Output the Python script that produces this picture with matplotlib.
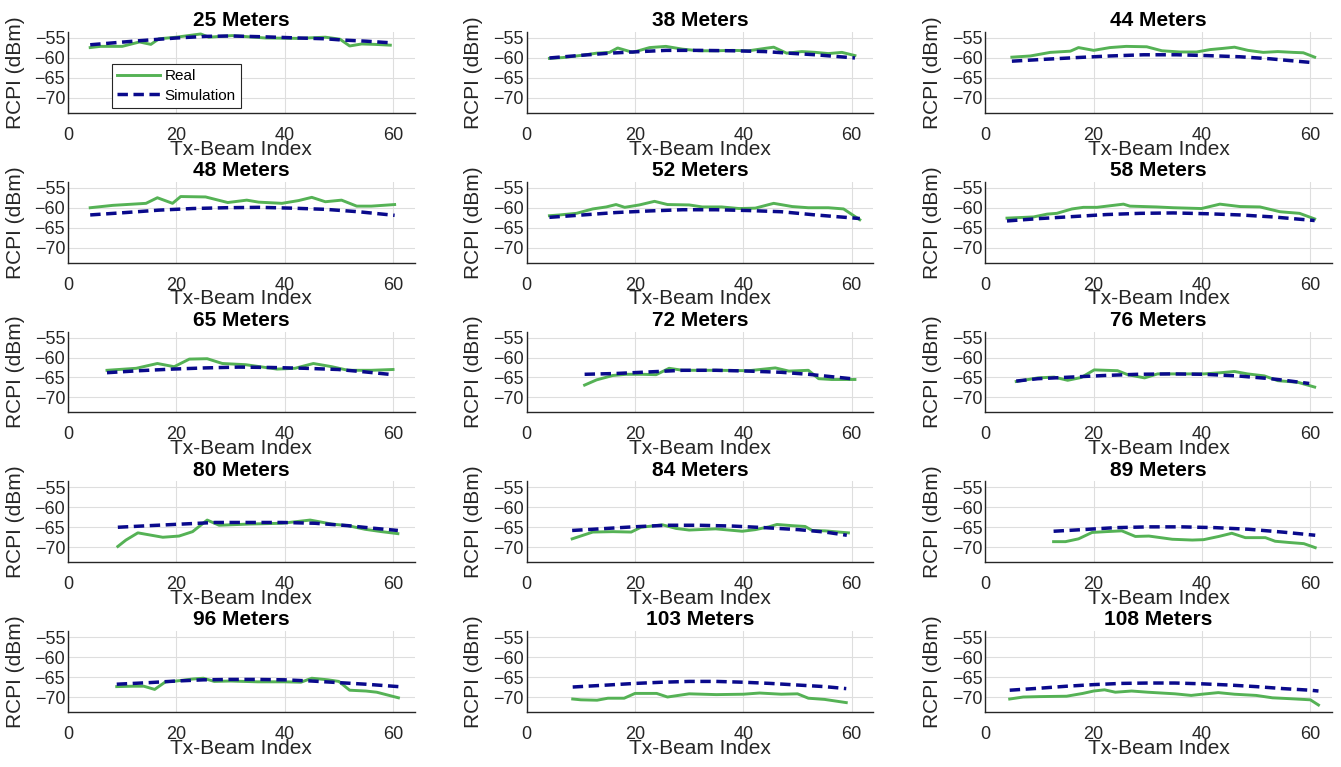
import matplotlib
matplotlib.use("Agg")
import matplotlib.pyplot as plt

# ---------- Data ----------

distances = [25, 38, 44, 48, 52, 58, 65, 72, 76, 80, 84, 89, 96, 103, 108]

# 25 m
real_x_25 = [4.1, 6, 10, 13.2, 15.3, 16.8, 20, 24.5, 26, 30.3, 36.4, 42.5, 47.5, 50.2, 52, 54.2, 56.6, 59.5]
real_y_25 = [-57.4, -57.1, -57.1, -56.0, -56.6, -55.2, -54.8, -54.0, -54.8, -54.4, -55.0, -55.1, -54.8, -55.3, -57.0, -56.5, -56.6, -56.8]
sim_x_25 = [4.1, 13, 20, 25.4, 30, 36, 42.5, 47.5, 50.5, 55, 59.5]
sim_y_25 = [-56.7, -55.7, -55.0, -54.6, -54.5, -54.7, -55.0, -55.2, -55.5, -55.8, -56.2]

# 38 m
real_x_38 = [4.2, 6.7, 10.4, 12.9, 15.3, 16.8, 19.6, 22.7, 25.7, 28.8, 31.8, 34.9, 38, 41, 44, 45.6, 48, 50.8, 53.3, 55.7, 58.2, 60.6]
real_y_38 = [-60.1, -59.9, -59.3, -58.8, -58.6, -57.5, -58.6, -57.4, -57.1, -57.8, -58.2, -58.2, -58.1, -58.2, -57.6, -57.3, -58.8, -58.4, -58.6, -58.9, -58.6, -59.4]
sim_x_38 = [4.2, 10.4, 15.3, 19.6, 25.7, 31.8, 38, 44, 48.4, 53.3, 60.6]
sim_y_38 = [-60.0, -59.3, -58.8, -58.5, -58.1, -58.1, -58.2, -58.4, -58.8, -59.2, -60.0]

# 44 m
real_x_44 = [4.9, 8.3, 12, 15.7, 17.2, 20, 23, 26, 29.8, 32.6, 35.9, 39, 41.5, 43.9, 46, 48.5, 51.3, 54, 56.8, 58.7, 60.8]
real_y_44 = [-59.8, -59.5, -58.6, -58.3, -57.4, -58.1, -57.4, -57.1, -57.2, -58.2, -58.5, -58.5, -57.9, -57.6, -57.3, -58.1, -58.6, -58.4, -58.6, -58.7, -59.8]
sim_x_44 = [4.9, 11.4, 16.9, 23, 29.2, 35.3, 40.8, 47, 52.5, 57.4, 60.8]
sim_y_44 = [-60.8, -60.3, -59.9, -59.5, -59.2, -59.2, -59.4, -59.7, -60.2, -60.8, -61.2]

# 48 m
real_x_48 = [4.1, 8.3, 12, 14.4, 16.5, 19.3, 20.8, 25.4, 29.5, 33, 35.2, 39.5, 42.6, 45, 47.5, 50.5, 53.3, 56, 60.3]
real_y_48 = [-60.0, -59.4, -59.1, -58.9, -57.5, -58.9, -57.2, -57.3, -58.7, -58.1, -58.6, -58.9, -58.2, -57.4, -58.5, -58.1, -59.6, -59.6, -59.2]
sim_x_48 = [4.1, 10.7, 16.8, 23, 29, 35.2, 41.3, 47.5, 53.6, 60.3]
sim_y_48 = [-61.8, -61.2, -60.6, -60.2, -60.0, -59.9, -60.1, -60.4, -61.0, -61.9]

# 52 m
real_x_52 = [4.2, 6.1, 9.2, 12.2, 14.7, 16.5, 18.1, 20.8, 23.6, 26, 30, 32.4, 36, 39.2, 42.2, 45.6, 49, 52, 55.7, 58.5, 61.5]
real_y_52 = [-62.0, -61.8, -61.4, -60.3, -59.8, -59.2, -59.9, -59.3, -58.4, -59.2, -59.3, -59.8, -59.8, -60.2, -60.1, -58.9, -59.7, -60.0, -60.0, -60.3, -63.0]
sim_x_52 = [4.2, 10.4, 16.5, 22.7, 28.8, 34.9, 41, 47, 53.3, 61.5]
sim_y_52 = [-62.4, -61.8, -61.2, -60.8, -60.5, -60.5, -60.7, -61.0, -61.8, -62.7]

# 58 m
real_x_58 = [4, 8.9, 11.4, 13.2, 16, 18.1, 20.6, 25.5, 26.7, 31.6, 34.7, 39.9, 43.3, 47, 50.7, 54.4, 58, 60.8]
real_y_58 = [-62.6, -62.3, -61.6, -61.4, -60.3, -59.9, -59.9, -59.1, -59.6, -59.8, -60.0, -60.2, -59.1, -59.7, -59.8, -61.0, -61.4, -62.8]
sim_x_58 = [4, 10.1, 16.3, 22.4, 28.6, 34.7, 40.9, 47, 53.1, 60.8]
sim_y_58 = [-63.3, -62.7, -62.2, -61.7, -61.4, -61.3, -61.5, -61.8, -62.3, -63.2]

# 65 m
real_x_65 = [7.2, 12.6, 16.5, 19.6, 22.4, 25.7, 28.5, 32.8, 38.6, 41.9, 45.3, 48.7, 51.7, 56, 60]
real_y_65 = [-63.2, -62.7, -61.5, -62.3, -60.4, -60.3, -61.5, -61.8, -62.9, -62.7, -61.5, -62.3, -63.2, -63.2, -63.0]
sim_x_65 = [7.2, 13.2, 19.3, 25.4, 31.5, 37.6, 43.8, 49.9, 54.8, 60]
sim_y_65 = [-63.8, -63.3, -62.9, -62.6, -62.4, -62.5, -62.7, -63.0, -63.6, -64.3]

# 72 m
real_x_72 = [10.7, 12.9, 15.9, 18.4, 21.4, 23.9, 26.3, 28.8, 34.9, 41, 45.9, 48.4, 52, 53.9, 56.3, 60.6]
real_y_72 = [-66.9, -65.6, -64.5, -64.2, -64.2, -64.3, -62.7, -63.2, -63.2, -63.3, -62.6, -63.4, -63.2, -65.3, -65.5, -65.5]
sim_x_72 = [10.7, 16.5, 22.7, 28.8, 34.9, 41, 47, 52, 56.3, 60.6]
sim_y_72 = [-64.2, -64.0, -63.6, -63.2, -63.2, -63.4, -63.7, -64.2, -64.8, -65.4]

# 76 m
real_x_76 = [5.7, 9.7, 12.7, 15.2, 17.7, 20.1, 24.4, 26.3, 29.4, 31.8, 34.9, 40.4, 43.5, 46, 48.4, 51.5, 54, 57.7, 60.8]
real_y_76 = [-66.0, -65.1, -64.9, -65.7, -65.0, -63.1, -63.3, -64.3, -65.1, -64.1, -64.1, -64.1, -63.8, -63.5, -64.1, -64.6, -65.8, -66.2, -67.4]
sim_x_76 = [5.7, 9.7, 15.8, 22, 28.1, 34.2, 40.4, 46.5, 52.7, 55.8, 59.8]
sim_y_76 = [-65.9, -65.3, -64.9, -64.5, -64.2, -64.1, -64.2, -64.6, -65.3, -65.8, -66.5]

# 80 m
real_x_80 = [9.2, 10.7, 12.9, 17.5, 20.5, 23, 25.7, 27.9, 33.4, 39.5, 44.7, 48.7, 51.7, 54.8, 57.9, 60.9]
real_y_80 = [-69.8, -68.2, -66.4, -67.5, -67.2, -66.1, -63.2, -64.5, -64.2, -64.0, -63.2, -64.2, -64.6, -65.5, -66.1, -66.6]
sim_x_80 = [9.2, 15, 21.1, 27.2, 33.4, 39.5, 45.6, 51.7, 56, 60.9]
sim_y_80 = [-65.0, -64.6, -64.2, -63.8, -63.8, -63.8, -64.0, -64.6, -65.2, -65.8]

# 84 m
real_x_84 = [8.4, 12.2, 15.9, 19.3, 21.1, 25.1, 27.6, 30, 34.9, 39.8, 42.2, 44.7, 46.2, 49, 51.4, 52.7, 55.1, 57.6, 59.4]
real_y_84 = [-67.9, -66.2, -66.1, -66.2, -65.0, -64.4, -65.3, -65.7, -65.4, -66.0, -65.6, -64.9, -64.3, -64.6, -64.8, -65.8, -65.9, -66.2, -66.4]
sim_x_84 = [8.4, 13.5, 19.6, 25.7, 31.8, 38, 44, 50.2, 55.1, 59.1]
sim_y_84 = [-65.8, -65.4, -64.9, -64.5, -64.5, -64.7, -65.1, -65.6, -66.2, -67.0]

# 89 m
real_x_89 = [12.6, 14.8, 17.2, 19.7, 22.2, 25.2, 27.7, 30.2, 34.5, 38.2, 40.3, 43.1, 45.5, 48, 51.7, 53.5, 56, 58.8, 60.9]
real_y_89 = [-68.6, -68.6, -67.9, -66.3, -66.1, -65.9, -67.3, -67.2, -68.0, -68.2, -68.1, -67.3, -66.5, -67.6, -67.6, -68.5, -68.8, -69.1, -70.1]
sim_x_89 = [12.6, 17.8, 24, 30.2, 36.3, 42.5, 48.6, 54.8, 60.9]
sim_y_89 = [-66.0, -65.6, -65.1, -64.9, -64.9, -65.1, -65.5, -66.2, -67.0]

# 96 m
real_x_96 = [9, 12, 14, 16, 18, 20, 23, 25, 27, 30, 35, 40, 43, 45, 48, 50, 52, 55, 57, 61]
real_y_96 = [-67.4, -67.3, -67.3, -68.1, -66.2, -66.0, -65.5, -65.3, -66.1, -66.0, -66.2, -66.2, -66.3, -65.3, -65.7, -66.1, -68.3, -68.5, -68.8, -70.2]
sim_x_96 = [9, 15, 20, 25, 30, 35, 40, 45, 50, 55, 61]
sim_y_96 = [-66.8, -66.4, -66.0, -65.7, -65.6, -65.6, -65.7, -66.0, -66.4, -66.8, -67.4]

# 103 m
real_x_103 = [8.5, 10, 13, 15, 18, 20, 24, 26, 28, 30, 35, 40, 43, 47, 50, 52, 55, 59]
real_y_103 = [-70.5, -70.7, -70.8, -70.3, -70.3, -69.1, -69.1, -70.0, -69.6, -69.2, -69.4, -69.3, -69.0, -69.3, -69.2, -70.3, -70.6, -71.4]
sim_x_103 = [8.5, 15, 20, 25, 30, 35, 40, 45, 50, 55, 59]
sim_y_103 = [-67.5, -67.0, -66.6, -66.3, -66.1, -66.1, -66.3, -66.6, -67.0, -67.4, -67.9]

# 108 m
real_x_108 = [4.5, 7, 10, 15, 18, 20, 22, 24, 27, 30, 35, 38, 40, 43, 46, 50, 53, 56, 60, 61.5]
real_y_108 = [-70.5, -70.0, -69.9, -69.8, -69.1, -68.5, -68.2, -68.8, -68.5, -68.8, -69.2, -69.6, -69.3, -68.9, -69.3, -69.6, -70.2, -70.4, -70.7, -72.0]
sim_x_108 = [4.5, 10, 15, 20, 25, 30, 35, 40, 45, 50, 55, 60, 61.5]
sim_y_108 = [-68.3, -67.8, -67.3, -66.9, -66.6, -66.5, -66.5, -66.7, -67.0, -67.4, -67.9, -68.3, -68.5]

x_ticks = [0, 20, 40, 60]
y_ticks = [-70, -65, -60, -55]

PANELS = [
    (real_x_25, real_y_25, sim_x_25, sim_y_25),
    (real_x_38, real_y_38, sim_x_38, sim_y_38),
    (real_x_44, real_y_44, sim_x_44, sim_y_44),
    (real_x_48, real_y_48, sim_x_48, sim_y_48),
    (real_x_52, real_y_52, sim_x_52, sim_y_52),
    (real_x_58, real_y_58, sim_x_58, sim_y_58),
    (real_x_65, real_y_65, sim_x_65, sim_y_65),
    (real_x_72, real_y_72, sim_x_72, sim_y_72),
    (real_x_76, real_y_76, sim_x_76, sim_y_76),
    (real_x_80, real_y_80, sim_x_80, sim_y_80),
    (real_x_84, real_y_84, sim_x_84, sim_y_84),
    (real_x_89, real_y_89, sim_x_89, sim_y_89),
    (real_x_96, real_y_96, sim_x_96, sim_y_96),
    (real_x_103, real_y_103, sim_x_103, sim_y_103),
    (real_x_108, real_y_108, sim_x_108, sim_y_108),
]

# ---------- Style ----------

GREEN = "#55b255"
NAVY = "#0a0a8c"
AXIS_COLOR = "#262626"

plt.rcParams["font.family"] = ["Liberation Sans", "DejaVu Sans"]

fig, axes = plt.subplots(5, 3, figsize=(13.41, 7.67), dpi=100)
fig.subplots_adjust(left=0.0507, right=0.9933, top=0.9583, bottom=0.0717,
                    wspace=0.323, hspace=0.85)

for i, ax in enumerate(axes.flat):
    rx, ry, sx, sy = PANELS[i]
    ax.plot(rx, ry, color=GREEN, lw=2.1, label="Real", zorder=3)
    ax.plot(sx, sy, color=NAVY, lw=2.5, dashes=(3, 1.6), label="Simulation", zorder=4)

    ax.set_xlim(0, 64)
    ax.set_ylim(-73.75, -53.5)
    ax.set_xticks(x_ticks)
    ax.set_yticks(y_ticks)
    ax.grid(True, color="#dedede", lw=0.8)
    ax.set_axisbelow(True)

    for side in ("top", "right"):
        ax.spines[side].set_visible(False)
    for side in ("left", "bottom"):
        ax.spines[side].set_color(AXIS_COLOR)
        ax.spines[side].set_linewidth(1.0)

    ax.tick_params(axis="both", length=0, labelsize=13, colors=AXIS_COLOR)
    ax.tick_params(axis="x", pad=10)
    ax.tick_params(axis="y", pad=2)

    ax.set_title(f"{distances[i]} Meters", fontsize=15, fontweight="bold", pad=4)
    ax.set_xlabel("Tx-Beam Index", fontsize=15, color=AXIS_COLOR, labelpad=-3)
    ax.set_ylabel("RCPI (dBm)", fontsize=15, color=AXIS_COLOR, labelpad=7)

    if i == 0:
        leg = ax.legend(loc="upper left", bbox_to_anchor=(0.127, 0.605), borderaxespad=0,
                        fontsize=11, frameon=True, fancybox=False, framealpha=1,
                        handlelength=2.8, borderpad=0.35, labelspacing=0.35,
                        handletextpad=0.3)
        leg.get_frame().set_edgecolor(AXIS_COLOR)
        leg.get_frame().set_linewidth(0.8)

fig.savefig("out.png", dpi=100)
